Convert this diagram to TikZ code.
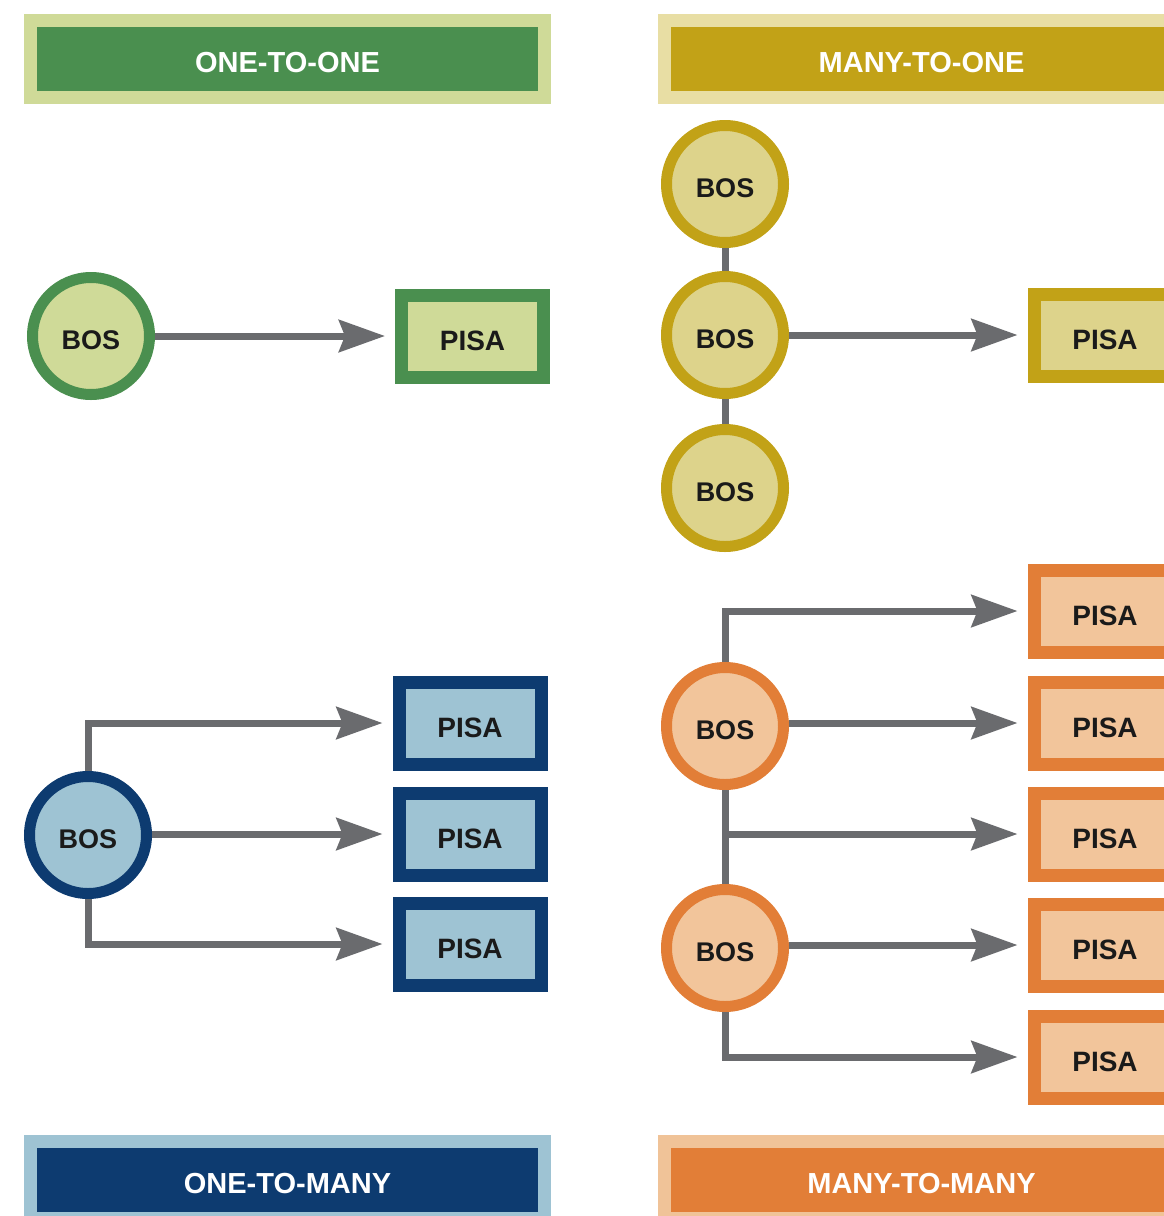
\documentclass[tikz,border=0pt]{standalone}
\usepackage{fontspec}
\setmainfont{Liberation Sans}
\usetikzlibrary{arrows.meta}

% palette
\definecolor{grDark}{HTML}{4A8F4F}
\definecolor{grLight}{HTML}{CFDA98}
\definecolor{auDark}{HTML}{C2A217}
\definecolor{auLight}{HTML}{DDD38B}
\definecolor{auHead}{HTML}{E8DEA4}
\definecolor{blDark}{HTML}{0D3B70}
\definecolor{blLight}{HTML}{9EC3D3}
\definecolor{orDark}{HTML}{E27E37}
\definecolor{orLight}{HTML}{F2C59B}
\definecolor{orHead}{HTML}{F0C398}
\definecolor{arrowgray}{HTML}{6A6B6E}
\definecolor{ink}{HTML}{1A1A1A}

\tikzset{
  header/.style={rectangle, inner sep=0pt, line width=13pt,
    minimum width=514pt, minimum height=77pt, text height=27pt, text depth=0pt,
    text=white, font=\fontsize{29}{29}\selectfont\bfseries},
  bos/.style={circle, inner sep=0pt, line width=11pt, minimum size=117pt,
    text height=27pt, text depth=0pt,
    text=ink, font=\fontsize{27}{27}\selectfont\bfseries},
  pisa/.style={rectangle, inner sep=0pt, line width=13pt,
    minimum width=142pt, minimum height=82pt, text height=28pt, text depth=0pt,
    text=ink, font=\fontsize{28}{28}\selectfont\bfseries},
  conn/.style={draw=arrowgray, line width=7pt,
    -{Stealth[length=46pt,width=32pt,inset=6pt]}, shorten >=10pt},
  link/.style={draw=arrowgray, line width=7pt}
}

\begin{document}
\begin{tikzpicture}[x=1pt,y=-1pt]
\useasboundingbox (0,0) rectangle (1164,1216);
\clip (0,0) rectangle (1164,1216);
\fill[white] (0,0) rectangle (1164,1216);

% ---- headers
\node[header, fill=grDark, draw=grLight] (hOO) at (287.5,59) {ONE-TO-ONE};
\node[header, fill=auDark, draw=auHead] (hMO) at (921.5,59) {MANY-TO-ONE};
\node[header, fill=blDark, draw=blLight] (hOM) at (287.5,1180) {ONE-TO-MANY};
\node[header, fill=orDark, draw=orHead] (hMM) at (921.5,1180) {MANY-TO-MANY};

% ---- one-to-one
\node[bos, fill=grLight, draw=grDark] (oo1) at (91,336) {BOS};
\node[pisa, fill=grLight, draw=grDark] (oop) at (472.5,336) {PISA};
\draw[conn] (oo1) -- (oop);

% ---- many-to-one
\node[bos, fill=auLight, draw=auDark] (mo1) at (725,184) {BOS};
\node[bos, fill=auLight, draw=auDark] (mo2) at (725,335) {BOS};
\node[bos, fill=auLight, draw=auDark] (mo3) at (725,488) {BOS};
\node[pisa, fill=auLight, draw=auDark] (mop) at (1105,335) {PISA};
\draw[link] (mo1.south) -- (mo2.north);
\draw[link] (mo2.south) -- (mo3.north);
\draw[conn] (mo2) -- (mop);

% ---- one-to-many
\node[bos, fill=blLight, draw=blDark] (om1) at (88,835) {BOS};
\node[pisa, fill=blLight, draw=blDark] (omp1) at (470,723) {PISA};
\node[pisa, fill=blLight, draw=blDark] (omp2) at (470,834) {PISA};
\node[pisa, fill=blLight, draw=blDark] (omp3) at (470,944) {PISA};
\draw[conn] (om1.north) |- (omp1.west);
\draw[conn] (om1.east |- omp2.west) -- (omp2.west);
\draw[conn] (om1.south) |- (omp3.west);

% ---- many-to-many
\node[bos, fill=orLight, draw=orDark] (mm1) at (725,726) {BOS};
\node[bos, fill=orLight, draw=orDark] (mm2) at (725,948) {BOS};
\node[pisa, fill=orLight, draw=orDark] (mmp1) at (1105,611) {PISA};
\node[pisa, fill=orLight, draw=orDark] (mmp2) at (1105,723) {PISA};
\node[pisa, fill=orLight, draw=orDark] (mmp3) at (1105,834) {PISA};
\node[pisa, fill=orLight, draw=orDark] (mmp4) at (1105,945) {PISA};
\node[pisa, fill=orLight, draw=orDark] (mmp5) at (1105,1057) {PISA};
\coordinate (mmj) at (mm1.south |- mmp3.west);
\draw[link] (mm1.south) -- (mm2.north);
\draw[conn] (mm1.north) |- (mmp1.west);
\draw[conn] (mm1.east |- mmp2.west) -- (mmp2.west);
\draw[conn] (mmj) -- (mmp3.west);
\draw[conn] (mm2.east |- mmp4.west) -- (mmp4.west);
\draw[conn] (mm2.south) |- (mmp5.west);
\end{tikzpicture}
\end{document}
